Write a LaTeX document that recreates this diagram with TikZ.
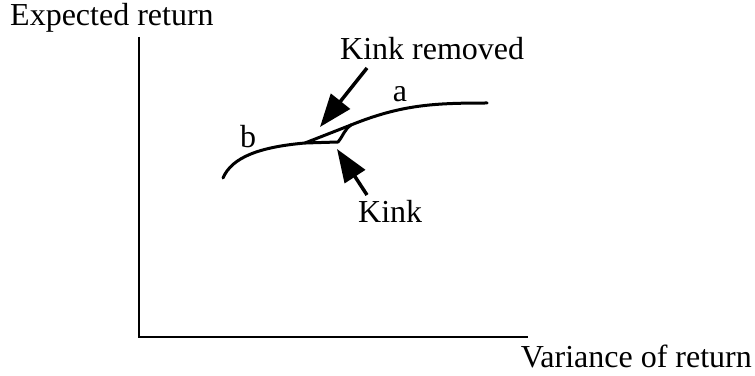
\documentclass[tikz,border=0pt]{standalone}
\usepackage{fontspec}
\setmainfont{Liberation Serif}
\usetikzlibrary{arrows.meta}
\begin{document}
\begin{tikzpicture}[x=1pt, y=1pt,
    every node/.style={inner sep=0pt, font=\fontsize{32}{38}\selectfont},
    axis/.style={line width=2.4pt},
    curve/.style={line width=3pt, line cap=round, line join=round},
    bigarrow/.style={line width=3.5pt, -{Triangle[length=33pt, width=24pt]}}]
    \useasboundingbox (0,0) rectangle (755,375);
    % axes
    \coordinate (origin) at (139,38);
    \coordinate (ytop) at (139,338);
    \coordinate (xend) at (528,38);
    \draw[axis] (ytop) -- (origin) -- (xend);
    \node[anchor=base west] (ylabel) at (10,349) {Expected return};
    \node[anchor=base east] (xlabel) at (752,8) {Variance of return};
    % frontier with the kink
    \coordinate (start) at (223,197);
    \coordinate (split) at (305,232);
    \coordinate (kink) at (338,233);
    \coordinate (join) at (351,250);
    \coordinate (end) at (487,272);
    \draw[curve] (start) .. controls (232,218) and (260,228) .. (split) -- (kink)
        to[out=50, in=215] (join) to[out=22, in=180] (end);
    \draw[curve] (split) -- (join); % kink removed
    \node[anchor=base] (alabel) at (400,273) {a};
    \node[anchor=base] (blabel) at (248,227) {b};
    % labels and arrows
    \node[anchor=base west] (krlabel) at (340,315) {Kink removed};
    \node[anchor=base west] (klabel) at (358,152) {Kink};
    \coordinate (krtail) at (367,307);
    \coordinate (krtip) at (320,248);
    \coordinate (ktail) at (367,180);
    \coordinate (ktip) at (337,226);
    \draw[bigarrow] (krtail) -- (krtip);
    \draw[bigarrow] (ktail) -- (ktip);
\end{tikzpicture}
\end{document}
